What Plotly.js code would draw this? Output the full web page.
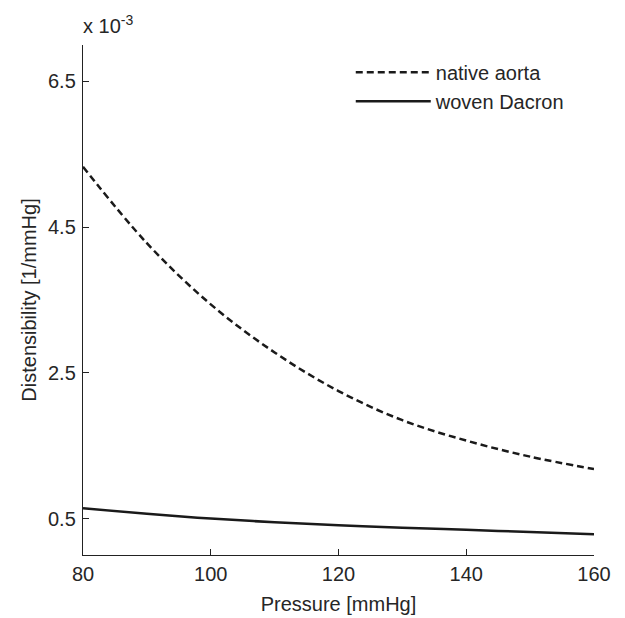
<!DOCTYPE html>
<html>
<head>
<meta charset="utf-8">
<script src="https://cdn.plot.ly/plotly-3.0.1.min.js"></script>
<style>html,body{margin:0;padding:0;background:#fff;}#chart{width:625px;height:618px;}</style>
</head>
<body>
<div id="chart"></div>
<script>
// Pressure values [mmHg]
const pressure = [80, 90, 100, 110, 120, 130, 140, 150, 160];
// Distensibility [1/mmHg], scaled x 10^-3
const nativeAorta = [5.33, 4.28, 3.44, 2.78, 2.25, 1.85, 1.57, 1.35, 1.18];
const wovenDacron = [0.64, 0.565, 0.50, 0.45, 0.41, 0.375, 0.345, 0.315, 0.285];
const seriesNames = ["native aorta", "woven Dacron"];
const xTicks = [80, 100, 120, 140, 160];
const yTicks = [0.5, 2.5, 4.5, 6.5];
const yTickText = ["0.5", "2.5", "4.5", "6.5"];

const FONT = "Liberation Sans, Arial, Helvetica, sans-serif";
const INK = "#262626";
const FS = 20;

const traces = [
  {x: pressure, y: nativeAorta, name: seriesNames[0], mode: "lines",
   line: {color: "#1a1a1a", width: 2.5, dash: "7px,4px", shape: "spline", smoothing: 1}},
  {x: pressure, y: wovenDacron, name: seriesNames[1], mode: "lines",
   line: {color: "#1a1a1a", width: 2.5, shape: "spline", smoothing: 1}}
];

const layout = {
  width: 625, height: 618,
  margin: {l: 83, r: 31, t: 45, b: 63},
  paper_bgcolor: "#fff", plot_bgcolor: "#fff",
  font: {family: FONT, color: INK, size: FS},
  showlegend: true,
  legend: {x: 0.524, y: 0.985, xanchor: "left", yanchor: "top",
           font: {family: FONT, size: FS, color: INK}, bgcolor: "rgba(0,0,0,0)",
           tracegroupgap: 0, itemwidth: 75},
  xaxis: {
    range: [80, 160], tickvals: xTicks, ticks: "inside", ticklen: 6, tickcolor: "#222",
    showline: true, linecolor: "#222", linewidth: 1.2, showgrid: false, zeroline: false,
    tickfont: {size: FS, family: FONT, color: INK}, ticklabelstandoff: 1,
    title: {text: "Pressure [mmHg]", font: {size: FS, family: FONT, color: INK}, standoff: 12}
  },
  yaxis: {
    range: [0, 7], tickvals: yTicks, ticktext: yTickText, ticks: "inside", ticklen: 6, tickcolor: "#222",
    showline: true, linecolor: "#222", linewidth: 1.2, showgrid: false, zeroline: false,
    tickfont: {size: FS, family: FONT, color: INK}, ticklabelstandoff: 2,
    title: {text: "Distensibility [1/mmHg]", font: {size: FS, family: FONT, color: INK}, standoff: 6}
  },
  annotations: [
    {xref: "paper", yref: "paper", x: 0, y: 1, xanchor: "left", yanchor: "bottom",
     xshift: -2, yshift: 6, showarrow: false, text: "x 10<sup>-3</sup>",
     font: {size: FS, family: FONT, color: INK}}
  ]
};

Plotly.newPlot("chart", traces, layout, {displayModeBar: false, staticPlot: true});
</script>
</body>
</html>
